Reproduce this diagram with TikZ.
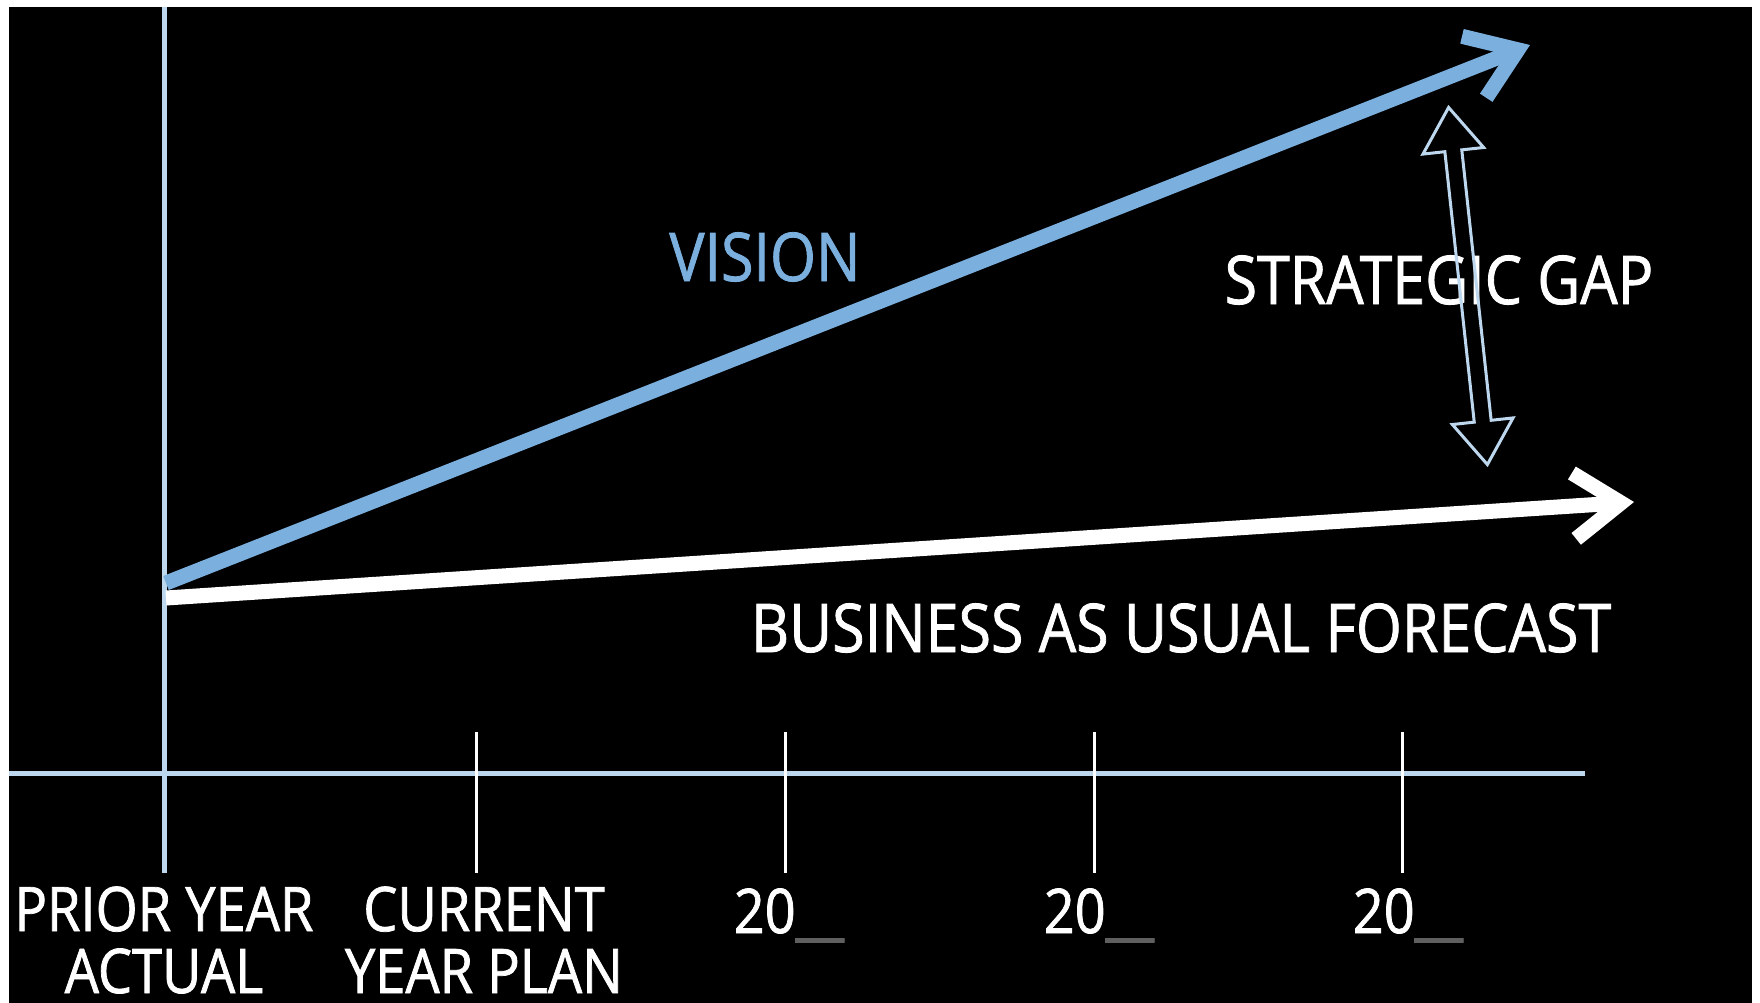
\documentclass[tikz,border=0pt]{standalone}
\usepackage{fontspec}
\setmainfont{Open Sans}[FakeStretch=0.88, FakeBold=1.2]
\usetikzlibrary{arrows.meta, shapes.arrows}
\definecolor{visionblue}{RGB}{122,175,222}
\definecolor{axisblue}{RGB}{189,215,238}
\definecolor{dashgray}{RGB}{95,95,95}

\begin{document}
\begin{tikzpicture}[x=0.01cm, y=-0.01cm,
  axis/.style={axisblue, line width=0.05cm},
  yeartick/.style={white, line width=0.03cm},
  trend/.style={line width=0.15cm, -{Straight Barb[length=0.47cm, width=0.66cm]}},
  toplabel/.style={font=\fontsize{19.1}{22}\selectfont, inner sep=0pt, anchor=base},
  yearlabel/.style={font=\fontsize{17.5}{17.6}\selectfont, text=white, inner sep=0pt, align=center, anchor=base},
  gaparrow/.style={double arrow, draw=axisblue, line width=0.03cm, inner sep=0.07cm,
    double arrow head extend=0.22cm, double arrow tip angle=70}]

  \fill[white] (0,0) rectangle (1760,1003);
  \fill[black] (9,7) rectangle (1752,1003);

  % axes
  \coordinate (ytop) at (164,7);
  \coordinate (ybot) at (164,873);
  \coordinate (xleft) at (9,773);
  \coordinate (xright) at (1585,773);
  \draw[axis] (xleft) -- (xright);
  \draw[axis] (ytop) -- (ybot);
  \foreach \x in {476,785,1094,1402}
    \draw[yeartick] (\x,732) -- (\x,873);

  % year labels
  \node[yearlabel] (prior)   at (164,993) {PRIOR YEAR\\ACTUAL};
  \node[yearlabel] (current) at (484,993) {CURRENT\\YEAR PLAN};
  \node[yearlabel] (yra)     at (789,933)  {20{\color{dashgray}\_\_}};
  \node[yearlabel] (yrb)     at (1099,933) {20{\color{dashgray}\_\_}};
  \node[yearlabel] (yrc)     at (1408,933) {20{\color{dashgray}\_\_}};

  % trend lines
  \coordinate (vstart) at (166,583);
  \coordinate (vtip)   at (1530,45);
  \coordinate (bstart) at (166,598);
  \coordinate (btip)   at (1634,502);
  \draw[trend, visionblue] (vstart) -- (vtip);
  \draw[trend, white] (bstart) -- (btip);

  \node[toplabel, text=visionblue] (vision)   at (765,281)  {VISION};
  \node[toplabel, text=white]      (gaptext)  at (1439,304) {STRATEGIC GAP};
  \node[toplabel, text=white]      (forecast) at (1181,652) {BUSINESS AS USUAL FORECAST};

  % gap between vision and forecast
  \node[gaparrow, minimum height=3.59cm, rotate=-83.8] (gap) at (1468,286) {};
\end{tikzpicture}
\end{document}
